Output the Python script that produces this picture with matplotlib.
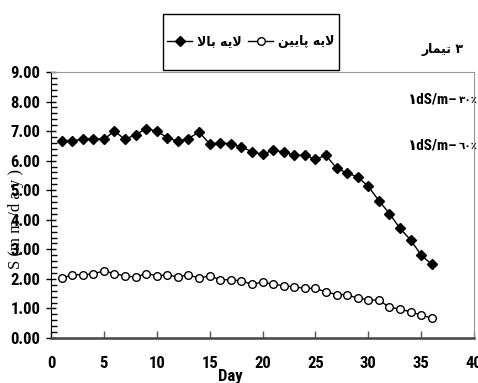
import matplotlib
matplotlib.use('Agg')
import matplotlib.pyplot as plt
from matplotlib.patches import Rectangle
from matplotlib.ticker import MultipleLocator, FormatStrFormatter

# days and the two series (S in mm/day)
days = list(range(1, 37))
upper_layer = [6.68, 6.68, 6.72, 6.75, 6.72, 7.00, 6.72, 6.88, 7.08, 7.00,
               6.78, 6.65, 6.75, 6.97, 6.57, 6.60, 6.57, 6.47, 6.30, 6.22,
               6.35, 6.30, 6.18, 6.18, 6.05, 6.18, 5.75, 5.58, 5.45, 5.13,
               4.65, 4.21, 3.71, 3.32, 2.81, 2.49]
lower_layer = [2.02, 2.14, 2.14, 2.17, 2.27, 2.18, 2.10, 2.06, 2.18, 2.11,
               2.13, 2.07, 2.14, 2.02, 2.11, 1.97, 1.97, 1.93, 1.82, 1.89,
               1.82, 1.77, 1.73, 1.68, 1.68, 1.56, 1.47, 1.47, 1.34, 1.30,
               1.27, 1.05, 0.97, 0.89, 0.77, 0.68]

# Persian labels written in visual order with presentation forms
# (matplotlib does no bidi / shaping)
label_upper = '\uFEFB\uFE8E\uFE91 \uFEEA\uFEF3\uFEFB'            # لایه بالا
label_lower = '\uFEE6\uFEF4\uFEF3\uFE8E\uFB58 \uFEEA\uFEF3\uFEFB'  # لایه پایین
title_txt = '\uFEAD\uFE8E\uFEE4\uFEF4\uFE97 \u06F3'               # تیمار ۳
note_unit = '\u0661dS/m\u2013'
note_pcts = ['\u0663\u0660\u066A', '\u0666\u0660\u066A']          # ٣٠٪ , ٦٠٪

tick_font = ['Roboto Condensed', 'Liberation Sans', 'DejaVu Sans']
arab_font = ['DejaVu Sans']

fig = plt.figure(figsize=(4.78, 3.83), dpi=100)
ax = fig.add_axes([51 / 478, 45 / 383, 423 / 478, 266 / 383])

ax.plot(days, upper_layer, color='black', lw=1, marker='D', ms=5.5,
        mfc='black', mec='black', label=label_upper)
ax.plot(days, lower_layer, color='black', lw=1, marker='o', ms=5.5,
        mfc='white', mec='black', mew=1, label=label_lower)

ax.set_xlim(0, 40)
ax.set_ylim(0, 9)
ax.xaxis.set_major_locator(MultipleLocator(5))
ax.yaxis.set_major_locator(MultipleLocator(1))
ax.yaxis.set_minor_locator(MultipleLocator(0.2))
ax.yaxis.set_major_formatter(FormatStrFormatter('%.2f'))
ax.tick_params(axis='y', which='major', direction='inout', length=7, width=1, pad=4)
ax.tick_params(axis='y', which='minor', direction='in', length=4, width=1)
ax.tick_params(axis='x', which='major', direction='in', length=5, width=1, pad=13,
               color='#555555')
for lab in ax.get_xticklabels() + ax.get_yticklabels():
    lab.set_family(tick_font)
    lab.set_fontweight('bold')
    lab.set_fontsize(12)

ax.spines['top'].set_color('#999999')
ax.spines['right'].set_color('#999999')
ax.spines['bottom'].set_color('#444444')
ax.spines['bottom'].set_linewidth(1.8)
ax.spines['left'].set_color('black')

# axis label sits under the tick labels, as in the original
fig.text(16 / 478, 1 - 219 / 383, 'S (m m /d a y )', rotation=90, ha='center', va='center',
         family=['Liberation Serif', 'DejaVu Serif'], fontsize=12, zorder=0)
fig.text(230 / 478, 1 - 377 / 383, 'Day', ha='center', va='center',
         family=tick_font, fontweight='bold', fontsize=12)

fig.text(443 / 478, 1 - 50 / 383, title_txt, ha='center', va='center',
         family=arab_font, fontweight='bold', fontsize=9)
for y_px, pct in zip([100, 146], note_pcts):
    fig.text(457 / 478, 1 - y_px / 383, note_unit, ha='right', va='center',
             family=tick_font, fontweight='bold', fontsize=11)
    fig.text(459 / 478, 1 - y_px / 383, pct, ha='left', va='center',
             family=arab_font, fontweight='bold', fontsize=7.5)

leg = fig.legend(loc='center', bbox_to_anchor=(251 / 478, 1 - 42 / 383),
                 ncol=2, frameon=False, handlelength=2.0, handletextpad=0.4,
                 columnspacing=0.5, borderpad=0, borderaxespad=0,
                 prop={'family': arab_font, 'weight': 'bold', 'size': 9})
fig.patches.append(Rectangle((163 / 478, 1 - 70 / 383), 176 / 478, 56 / 383,
                             transform=fig.transFigure, fill=False,
                             edgecolor='black', linewidth=1))

fig.savefig('out.png', dpi=100)
